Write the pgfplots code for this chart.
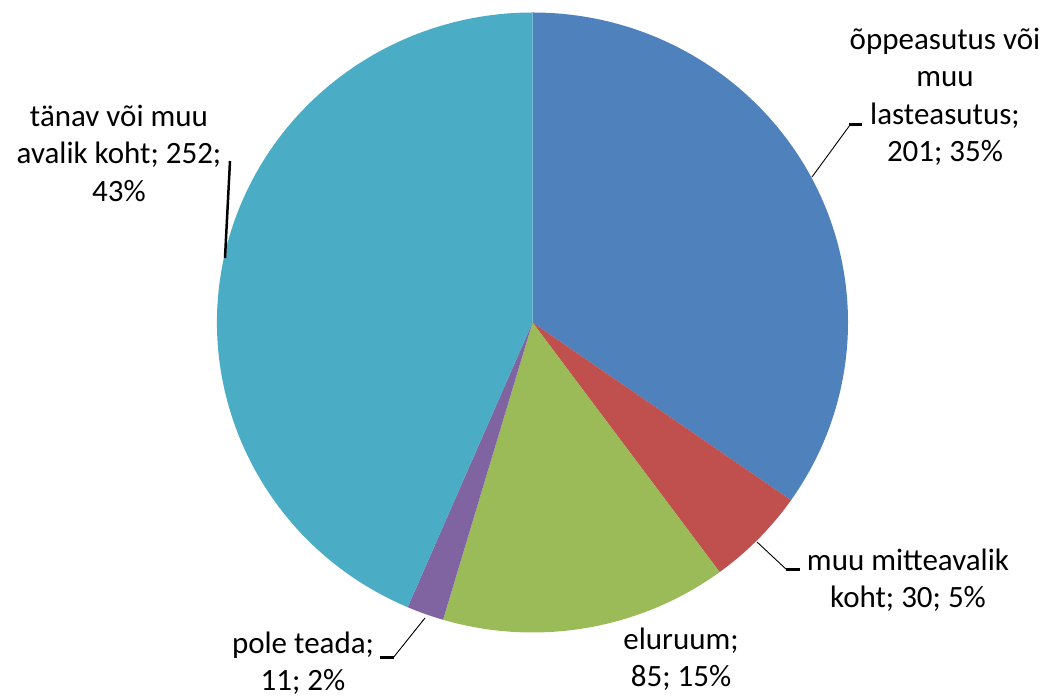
\documentclass[border=0pt]{standalone}
\usepackage{pgfplots}
\usepackage{pgfplotstable}
\pgfplotsset{compat=1.18}
\usepackage{fontspec}
\setmainfont{Carlito}
\definecolor{c1}{HTML}{4F81BD}
\definecolor{c2}{HTML}{C0504D}
\definecolor{c3}{HTML}{9BBB59}
\definecolor{c4}{HTML}{8064A2}
\definecolor{c5}{HTML}{4BACC6}
\pgfplotstableread{
value color
201 c1
30 c2
85 c3
11 c4
252 c5
}\piedata
\begin{document}
\begin{tikzpicture}
\begin{axis}[
  at={(0,0)}, anchor=south west,
  scale only axis, width=1054bp, height=698bp,
  xmin=0, xmax=1054, ymin=0, ymax=698,
  hide axis, clip=false,
]
\def\cumul{0}
\def\total{0}
\pgfplotsforeachungrouped \i in {0,...,4}{%
  \pgfplotstablegetelem{\i}{value}\of\piedata
  \pgfmathsetmacro\total{\total+\pgfplotsretval}%
}
\pgfplotsforeachungrouped \i in {0,...,4}{%
  \pgfplotstablegetelem{\i}{value}\of\piedata \let\pval\pgfplotsretval
  \pgfplotstablegetelem{\i}{color}\of\piedata \let\pcol\pgfplotsretval
  \pgfmathsetmacro\pa{90-360*(\cumul/\total)}%
  \pgfmathsetmacro\pb{90-360*((\cumul+\pval)/\total)}%
  \edef\temp{\noexpand\fill[\pcol] (axis cs:532.5,375.5) -- ++(\pa:315.5bp and 310bp) arc[start angle=\pa, end angle=\pb, x radius=315.5bp, y radius=310bp] -- cycle;}%
  \temp
  \pgfmathsetmacro\cumul{\cumul+\pval}%
}
% leader lines
\draw[line width=0.9bp] (axis cs:812,521) -- (axis cs:850,573);
\draw[line width=3bp] (axis cs:849,573) -- (axis cs:862,573);
\draw[line width=0.9bp] (axis cs:757,156) -- (axis cs:787,128);
\draw[line width=3bp] (axis cs:786,128) -- (axis cs:800,128);
\draw[line width=0.9bp] (axis cs:425,80) -- (axis cs:393,40);
\draw[line width=3bp] (axis cs:394,40) -- (axis cs:380,40);
\draw[line width=2.5bp] (axis cs:225,440) -- (axis cs:230,537);
% labels
\tikzset{lab/.style={align=center, inner sep=0pt, font=\fontsize{31bp}{37.5bp}\selectfont}}
\node[lab] at (axis cs:945,601) {õppeasutus või\\muu\\lasteasutus;\\201; 35\%};
\node[lab] at (axis cs:908,118) {muu mitteavalik\\koht; 30; 5\%};
\node[lab] at (axis cs:681,39) {eluruum;\\85; 15\%};
\node[lab] at (axis cs:303,35) {pole teada;\\11; 2\%};
\node[lab] at (axis cs:119,545) {tänav või muu\\avalik koht; 252;\\43\%};
\end{axis}
\pgfresetboundingbox
\useasboundingbox (0,0) rectangle (1054bp,698bp);
\end{tikzpicture}
\end{document}
